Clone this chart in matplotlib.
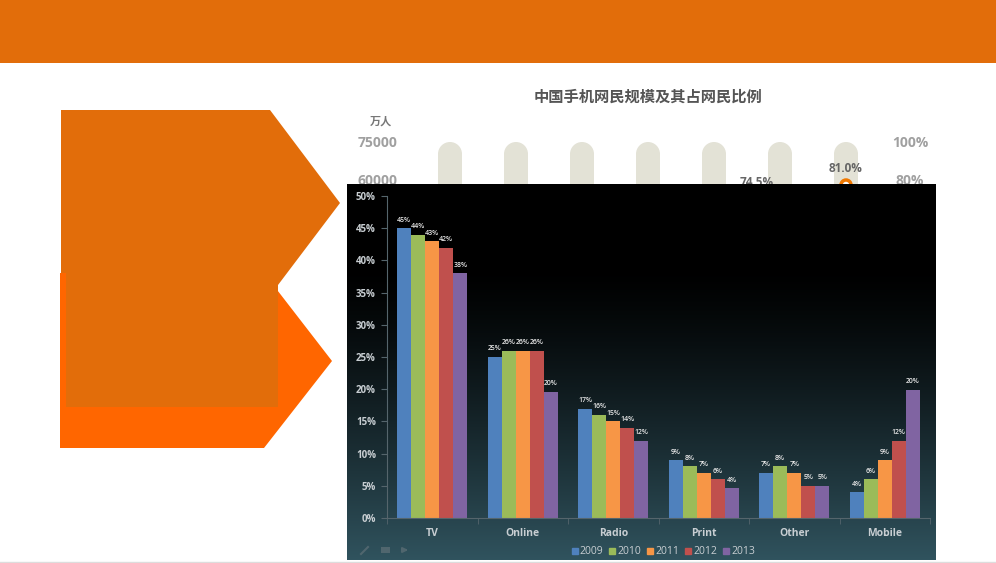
import numpy as np
import matplotlib
matplotlib.use('Agg')
import matplotlib.pyplot as plt
from matplotlib.patches import Polygon, Rectangle, Circle
from matplotlib.lines import Line2D

plt.rcParams['font.family'] = ['Open Sans', 'Noto Sans CJK SC', 'DejaVu Sans']

### DATA
categories = ['TV', 'Online', 'Radio', 'Print', 'Other', 'Mobile']
years = ['2009', '2010', '2011', '2012', '2013']
# bar heights (%) as drawn
share_2009 = [45, 25, 17, 9, 7, 4]
share_2010 = [44, 26, 16, 8, 8, 6]
share_2011 = [43, 26, 15, 7, 7, 9]
share_2012 = [42, 26, 14, 6, 5, 12]
share_2013 = [38, 19.6, 12, 4.6, 5, 19.9]
# printed labels
label_2009 = ['45%', '25%', '17%', '9%', '7%', '4%']
label_2010 = ['44%', '26%', '16%', '8%', '8%', '6%']
label_2011 = ['43%', '26%', '15%', '7%', '7%', '9%']
label_2012 = ['42%', '26%', '14%', '6%', '5%', '12%']
label_2013 = ['38%', '20%', '12%', '4%', '5%', '20%']
yticks = [0, 5, 10, 15, 20, 25, 30, 35, 40, 45, 50]

# background chinese chart (mostly hidden)
bg_title = '中国手机网民规模及其占网民比例'
bg_left_ticks = ['75000', '60000']
bg_right_ticks = ['100%', '80%']
bg_points = ['74.5%', '81.0%']

series = [share_2009, share_2010, share_2011, share_2012, share_2013]
labels = [label_2009, label_2010, label_2011, label_2012, label_2013]
colors = ['#4F81BD', '#9BBB59', '#F79646', '#C0504D', '#8064A2']

W, H = 996, 563
fig = plt.figure(figsize=(W / 100, H / 100), dpi=100)
fig.patch.set_facecolor('white')

# pixel-space canvas for the slide
bg = fig.add_axes([0, 0, 1, 1])
bg.set_xlim(0, W)
bg.set_ylim(H, 0)
bg.axis('off')

# top band
bg.add_patch(Rectangle((0, 0), W, 63, color='#E26D0A', lw=0))

# arrow shapes on the left
bg.add_patch(Polygon([(60, 273), (264, 273), (332, 361), (264, 448), (60, 448)],
                     closed=True, color='#FF6600', lw=0))
bg.add_patch(Polygon([(61, 110), (270, 110), (340, 203), (278, 285), (278, 407),
                      (66, 407), (66, 273), (61, 273)],
                     closed=True, color='#E26D0A', lw=0))

# partly hidden chinese chart behind
cjk = ['Noto Sans CJK SC', 'DejaVu Sans']
bg.text(648, 97, bg_title, ha='center', va='center', fontsize=11, fontweight='bold',
        color='#555555', family=cjk)
bg.text(381, 121, '万人', ha='center', va='center', fontsize=8, fontweight='bold',
        color='#777777', family=cjk)
for i, t in enumerate(bg_left_ticks):
    bg.text(378, 143 + i * 38, t, ha='center', va='center', fontsize=10, fontweight='bold',
            color='#A0A0A0')
for i, t in enumerate(bg_right_ticks):
    bg.text(910, 143 + i * 38, t, ha='center', va='center', fontsize=10, fontweight='bold',
            color='#A0A0A0')
for xc in [450, 516, 582, 648, 714, 780, 846]:
    bg.add_patch(Circle((xc, 154), 12, color='#E3E2D6', lw=0))
    bg.add_patch(Rectangle((xc - 12, 154), 24, 40, color='#E3E2D6', lw=0))
bg.text(757, 182, bg_points[0], ha='center', va='center', fontsize=8.5, fontweight='bold', color='#666666')
bg.text(846, 169, bg_points[1], ha='center', va='center', fontsize=8.5, fontweight='bold', color='#666666')
bg.add_patch(Circle((846, 185), 5, facecolor='white', edgecolor='#F07800', lw=2.5))

# chart screenshot background gradient
x0, x1, y0, y1 = 347, 936, 184, 560
t = np.linspace(0, 1, 300)[:, None]
ramp = np.clip((t - 0.22) / 0.78, 0, 1) ** 1.3
top = np.array([0, 0, 0])
bot = np.array([0x30, 0x53, 0x5E]) / 255
grad = top[None, None, :] * (1 - ramp[..., None]) + bot[None, None, :] * ramp[..., None]
grad = np.repeat(grad, 2, axis=1)
bg.imshow(grad, extent=(x0, x1, y1, y0), aspect='auto', zorder=3)
bg.plot([0, W], [561.5, 561.5], color='#DDDDDD', lw=1, zorder=3)

# faint toolbar icons in the screenshot corner
bg.plot([361, 368], [554, 547], color='#50666E', lw=1.5, zorder=4)
bg.add_patch(Rectangle((381, 547), 9, 6, color='#50666E', lw=0, zorder=4))
bg.annotate('', xy=(411, 550), xytext=(401, 550), zorder=4,
            arrowprops=dict(arrowstyle='-|>', color='#50666E', lw=1.5, mutation_scale=7))

# bar chart axes
ax = fig.add_axes([387 / W, 1 - 518 / H, 543 / W, (518 - 196) / H])
ax.set_facecolor('none')
ax.set_zorder(5)
xpos = np.arange(len(categories))
bw = 0.155
for i, (vals, labs) in enumerate(zip(series, labels)):
    xs = xpos + (i - 2) * bw
    ax.bar(xs, vals, width=bw, color=colors[i], lw=0, label=years[i])
    for x, v, lab in zip(xs, vals, labs):
        ax.text(x, v + 0.7, lab, ha='center', va='bottom', fontsize=5, fontweight='semibold',
                color='#E8E8E8')

ax.set_xlim(-0.5, len(categories) - 0.5)
ax.set_ylim(0, 50)
ax.set_yticks(yticks)
ax.set_yticklabels([f'{v}%' for v in yticks], fontsize=7, fontweight='bold', color='#C8CED2')
ax.set_xticks(xpos)
ax.set_xticklabels(categories, fontsize=7.5, fontweight='bold', color='#C8CED2')
ax.set_xticks(np.arange(-0.5, len(categories)), minor=True)
ax.tick_params(axis='x', which='major', length=0, pad=7)
ax.tick_params(axis='x', which='minor', length=4, color='#55656C')
ax.tick_params(axis='y', length=4, color='#55656C', pad=4)
for s in ['top', 'right']:
    ax.spines[s].set_visible(False)
for s in ['left', 'bottom']:
    ax.spines[s].set_color('#55656C')
    ax.spines[s].set_linewidth(0.8)

handles = [Line2D([], [], marker='s', ls='', color=c, markersize=5) for c in colors]
leg = fig.legend(handles, years, loc='center', bbox_to_anchor=(663 / W, 1 - 552 / H),
                 ncol=5, frameon=False, fontsize=7.5, handlelength=0.7, handletextpad=0.15,
                 columnspacing=0.5)
for txt in leg.get_texts():
    txt.set_color('#C8CED2')
leg.set_zorder(6)

fig.savefig('out.png', dpi=100)
